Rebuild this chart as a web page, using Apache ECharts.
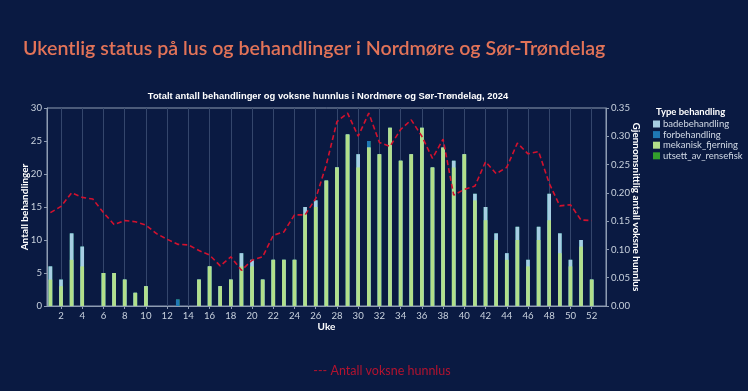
<!DOCTYPE html>
<html><head><meta charset="utf-8">
<script src="https://cdn.jsdelivr.net/npm/echarts@6/dist/echarts.min.js"></script>
<style>html,body{margin:0;padding:0;background:#0a1a42;}#c{width:748px;height:391px;}</style>
</head><body><div id="c"></div>
<script>
const weeks = [1,2,3,4,5,6,7,8,9,10,11,12,13,14,15,16,17,18,19,20,21,22,23,24,25,26,27,28,29,30,31,32,33,34,35,36,37,38,39,40,41,42,43,44,45,46,47,48,49,50,51,52];
const mekanisk = [4,3,7,6,0,5,5,4,2,3,0,0,0,0,4,6,3,4,6,6,4,7,7,7,14,15,19,21,26,21,24,23,27,22,23,27,21,24,21,23,16,13,10,7,10,6,10,13,8,6,9,4];
const badebehandling = [2,1,4,3,0,0,0,0,0,0,0,0,0,0,0,0,0,0,2,1,0,0,0,0,1,1,0,0,0,2,0,0,0,0,0,0,0,0,1,0,1,2,1,1,2,1,2,4,3,1,1,0];
const forbehandling = [0,0,0,0,0,0,0,0,0,0,0,0,1,0,0,0,0,0,0,0,0,0,0,0,0,0,0,0,0,0,1,0,0,0,0,0,0,0,0,0,0,0,0,0,0,0,0,0,0,0,0,0];
const utsett = [0,0,0,0,0,0,0,0,0,0,0,0,0,0,0,0,0,0,0,0,0,0,0,0,0,0,0,0,0,0,0,0,0,0,0,0,0,0,0,0,0,0,0,0,0,0,0,0,0,0,0,0];
const lus = [0.165,0.176,0.200,0.192,0.189,0.165,0.144,0.151,0.149,0.143,0.128,0.118,0.109,0.108,0.098,0.090,0.071,0.087,0.063,0.081,0.087,0.125,0.131,0.161,0.161,0.190,0.250,0.326,0.341,0.300,0.341,0.289,0.282,0.312,0.329,0.300,0.261,0.295,0.196,0.206,0.212,0.255,0.234,0.245,0.288,0.269,0.273,0.217,0.177,0.179,0.152,0.151];

// cumulative stacks (stack order bottom->top: mekanisk, bade, forbehandling, utsett)
const cum1 = mekanisk;
const cum2 = mekanisk.map((v,i)=>v+badebehandling[i]);
const cum3 = cum2.map((v,i)=>v+forbehandling[i]);
const cum4 = cum3.map((v,i)=>v+utsett[i]);

const pair = arr => weeks.map((w,i)=>[w,arr[i]]);
const chart = echarts.init(document.getElementById('c'), null, {renderer:'canvas'});
const lab = {color:'#c9d2de', fontSize:9.6, fontFamily:'Lato'};
const nameStyle = {color:'#ffffff', fontWeight:'bold', fontSize:10, fontFamily:'Lato'};
const bar = (name, data, color) => ({name, type:'bar', data:pair(data), barWidth:3.6, barGap:'-100%', itemStyle:{color}, xAxisIndex:0, yAxisIndex:0});
chart.setOption({
  backgroundColor:'#0a1a42',
  animation:false,
  title:[
    {text:'Ukentlig status på lus og behandlinger i Nordmøre og Sør-Trøndelag', left:18, top:34, textStyle:{color:'#e27358', fontSize:19.6, fontWeight:600, fontFamily:'Lato'}},
    {text:'Totalt antall behandlinger og voksne hunnlus i Nordmøre og Sør-Trøndelag, 2024', left:323, textAlign:'center', top:87, textStyle:{color:'#ffffff', fontSize:9.4, fontWeight:'bold', fontFamily:'Liberation Sans'}},
    {text:'Type behandling', left:651, top:102, textStyle:{color:'#ffffff', fontSize:9.5, fontWeight:'bold', fontFamily:'Lato'}},
    {text:'--- Antall voksne hunnlus', left:377, textAlign:'center', top:359, textStyle:{color:'#b3132f', fontSize:12.5, fontWeight:'normal', fontFamily:'Lato'}}
  ],
  legend:{orient:'vertical', left:653, top:119, padding:0, itemWidth:7, itemHeight:7, itemGap:0.6, icon:'rect',
    data:['badebehandling','forbehandling','mekanisk_fjerning','utsett_av_rensefisk'],
    textStyle:{color:'#d2dae6', fontSize:9.5, fontFamily:'Lato', padding:[0,0,0,-2]}},
  grid:{left:47, right:142, top:108, bottom:85, show:true, borderColor:'#8e9cb2', borderWidth:1, backgroundColor:'transparent'},
  xAxis:[{type:'value', min:0.68, max:53.35, splitNumber:26,
    name:'Uke', nameLocation:'middle', nameGap:16, nameMoveOverlap:false, nameTextStyle:nameStyle,
    axisLine:{show:true, lineStyle:{color:'#8e9cb2'}}, axisTick:{show:true, length:3, lineStyle:{color:'#8e9cb2'}},
    axisLabel:Object.assign({showMinLabel:false, showMaxLabel:false, margin:5, formatter:v=>Number.isInteger(v)?String(v):''}, lab),
    splitLine:{show:true, lineStyle:{color:'#34466c', width:1}}}],
  yAxis:[{type:'value', min:0, max:30, interval:5, position:'left',
    name:'Antall behandlinger', nameLocation:'middle', nameGap:17, nameMoveOverlap:false, nameRotate:90, nameTextStyle:nameStyle,
    axisLine:{show:true, lineStyle:{color:'#8e9cb2'}}, axisTick:{show:true, length:3, lineStyle:{color:'#8e9cb2'}},
    axisLabel:Object.assign({margin:5}, lab), splitLine:{show:false}},
    {type:'value', min:0, max:0.35, interval:0.05, position:'right',
    name:'Gjennomsnittlig antall voksne hunnlus', nameLocation:'middle', nameGap:25, nameMoveOverlap:false, nameRotate:-90, nameTextStyle:nameStyle,
    axisLine:{show:true, lineStyle:{color:'#8e9cb2'}}, axisTick:{show:true, length:3, lineStyle:{color:'#8e9cb2'}},
    axisLabel:Object.assign({margin:5, formatter:v=>v.toFixed(2)}, lab), splitLine:{show:false}}],
  series:[
    bar('utsett_av_rensefisk', cum4, '#33a02c'),
    bar('forbehandling', cum3, '#1f78b4'),
    bar('badebehandling', cum2, '#a6cee3'),
    bar('mekanisk_fjerning', cum1, '#b2df8a'),
    {name:'Antall voksne hunnlus', type:'line', xAxisIndex:0, yAxisIndex:1, data:pair(lus), symbol:'none', z:5,
      lineStyle:{color:'#d3112e', width:1.6, type:[5,3]}}
  ]
});
</script></body></html>
